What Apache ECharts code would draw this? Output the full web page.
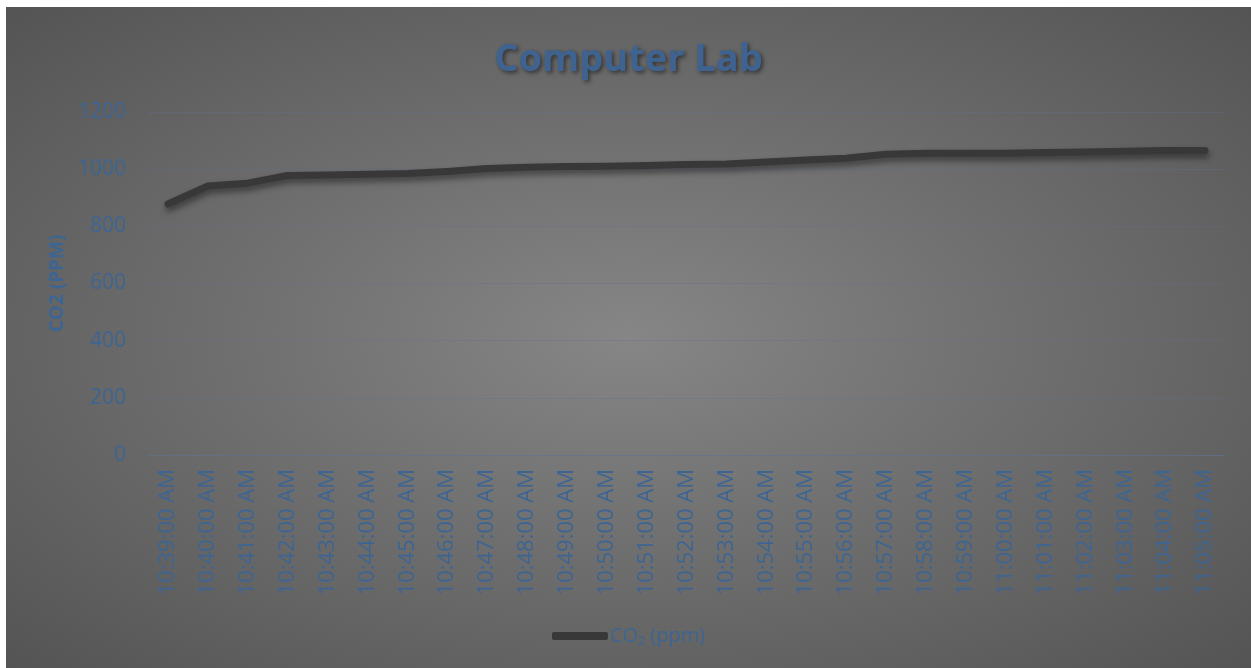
<!DOCTYPE html>
<html>
<head>
<meta charset="utf-8">
<script src="https://cdn.jsdelivr.net/npm/echarts@6/dist/echarts.min.js"></script>
<style>
html,body{margin:0;padding:0;background:#fff;width:1251px;height:668px;overflow:hidden;}
#chart{position:absolute;left:6px;top:7px;width:1245px;height:661px;
background:radial-gradient(ellipse farthest-corner at 50% 50%, #868686 0%, #6f6f6f 45%, #545454 100%);}
</style>
</head>
<body>
<div id="chart"></div>
<script>
const titleText = "Computer Lab";
const yAxisName = "CO2 (PPM)";
const seriesName = "CO\u2082 (ppm)";
const categories = ["10:39:00 AM","10:40:00 AM","10:41:00 AM","10:42:00 AM","10:43:00 AM","10:44:00 AM","10:45:00 AM","10:46:00 AM","10:47:00 AM","10:48:00 AM","10:49:00 AM","10:50:00 AM","10:51:00 AM","10:52:00 AM","10:53:00 AM","10:54:00 AM","10:55:00 AM","10:56:00 AM","10:57:00 AM","10:58:00 AM","10:59:00 AM","11:00:00 AM","11:01:00 AM","11:02:00 AM","11:03:00 AM","11:04:00 AM","11:05:00 AM"];
const co2Values = [878,941,951,978,980,982,985,992,1002,1007,1009,1010,1013,1016,1018,1025,1032,1038,1052,1056,1056,1056,1058,1060,1063,1065,1065];
const yMin = 0, yMax = 1200, yStep = 200;

const blue = '#3d6593';
const chart = echarts.init(document.getElementById('chart'), null, {renderer:'canvas'});
chart.setOption({
  backgroundColor: 'transparent',
  animation: false,
  title: {
    text: titleText,
    left: 'center',
    top: 29,
    textStyle: {
      color: '#3f6390', fontFamily: 'Open Sans', fontWeight: 'bold', fontSize: 38,
      textShadowColor: 'rgba(0,0,0,0.5)', textShadowBlur: 4, textShadowOffsetX: 2, textShadowOffsetY: 2
    }
  },
  grid: {left: 142, right: 26, top: 105, bottom: 213, containLabel: false},
  legend: {
    data: [seriesName],
    bottom: 17,
    left: 'center',
    itemWidth: 56,
    itemHeight: 8,
    icon: 'roundRect',
    itemGap: 4,
    itemStyle: {color: '#383838'},
    textStyle: {color: blue, fontFamily: 'Open Sans', fontSize: 20, padding: [0,0,0,-3]}
  },
  xAxis: {
    type: 'category',
    data: categories,
    boundaryGap: true,
    axisLine: {show: true, lineStyle: {color: 'rgba(95,115,145,0.45)', width: 1}},
    axisTick: {show: false},
    axisLabel: {rotate: 90, color: blue, fontFamily: 'Open Sans', fontSize: 22, margin: 14, interval: 0}
  },
  yAxis: {
    type: 'value',
    min: yMin, max: yMax, interval: yStep,
    name: yAxisName,
    nameLocation: 'middle',
    nameGap: 80,
    nameRotate: 90,
    nameTextStyle: {color: blue, fontFamily: 'Open Sans', fontWeight: 'bold', fontSize: 19},
    axisLine: {show: false},
    axisTick: {show: false},
    axisLabel: {color: blue, fontFamily: 'Open Sans', fontSize: 21, margin: 22, formatter: function (v) { return String(v); }},
    splitLine: {lineStyle: {color: 'rgba(95,115,145,0.35)', width: 1}}
  },
  series: [{
    name: seriesName,
    type: 'line',
    data: co2Values,
    symbol: 'none',
    lineStyle: {
      color: '#383838', width: 7, cap: 'round', join: 'round',
      shadowColor: 'rgba(0,0,0,0.45)', shadowBlur: 6, shadowOffsetX: 1, shadowOffsetY: 4
    },
    itemStyle: {color: '#383838'}
  }]
});
</script>
</body>
</html>
